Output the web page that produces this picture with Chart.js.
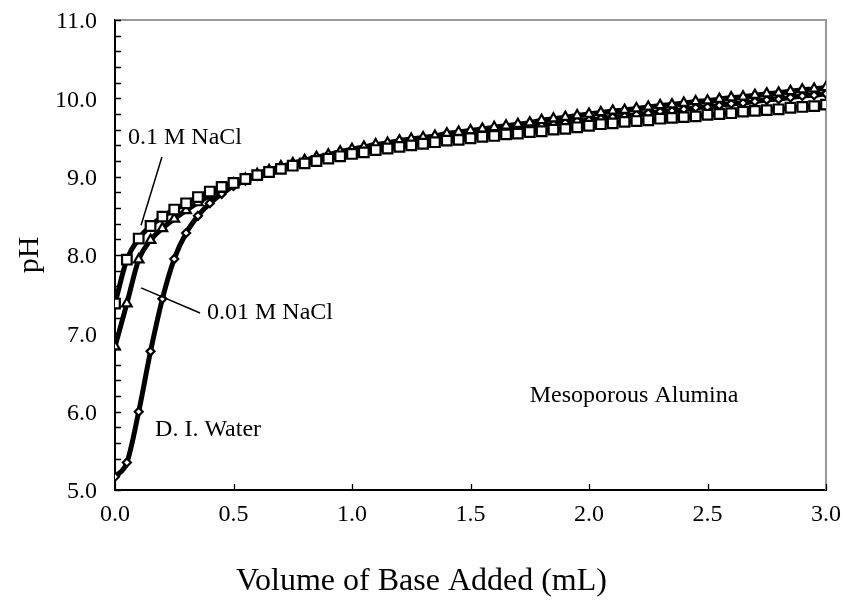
<!DOCTYPE html>
<html>
<head>
<meta charset="utf-8">
<script src="https://cdn.jsdelivr.net/npm/chart.js@4.4.0/dist/chart.umd.min.js"></script>
<style>
	html, body { margin: 0; padding: 0; background: #fff; }
</style>
</head>
<body>
<canvas id="grafica_ph" width="845" height="601"></canvas>
<script>

// volume of base added (mL)
var volumen = [0.00, 0.05, 0.10, 0.15, 0.20, 0.25, 0.30, 0.35, 0.40, 0.45,
	0.50, 0.55, 0.60, 0.65, 0.70, 0.75, 0.80, 0.85, 0.90, 0.95,
	1.00, 1.05, 1.10, 1.15, 1.20, 1.25, 1.30, 1.35, 1.40, 1.45,
	1.50, 1.55, 1.60, 1.65, 1.70, 1.75, 1.80, 1.85, 1.90, 1.95,
	2.00, 2.05, 2.10, 2.15, 2.20, 2.25, 2.30, 2.35, 2.40, 2.45,
	2.50, 2.55, 2.60, 2.65, 2.70, 2.75, 2.80, 2.85, 2.90, 2.95, 3.00];

// pH, 0.1 M NaCl (squares)
var ph_nacl_01 = [7.38, 7.94, 8.21, 8.37, 8.49, 8.58, 8.66, 8.74, 8.81, 8.87,
	8.92, 8.97, 9.02, 9.06, 9.10, 9.14, 9.17, 9.20, 9.23, 9.26,
	9.29, 9.31, 9.34, 9.36, 9.38, 9.40, 9.42, 9.44, 9.46, 9.47,
	9.49, 9.51, 9.52, 9.54, 9.55, 9.57, 9.58, 9.60, 9.61, 9.63,
	9.65, 9.67, 9.68, 9.70, 9.71, 9.72, 9.74, 9.75, 9.76, 9.77,
	9.79, 9.80, 9.81, 9.83, 9.84, 9.85, 9.86, 9.88, 9.89, 9.90, 9.92];

// pH, 0.01 M NaCl (triangles)
var ph_nacl_001 = [6.83, 7.38, 7.94, 8.19, 8.34, 8.46, 8.57, 8.67, 8.76, 8.84,
	8.91, 8.97, 9.03, 9.08, 9.13, 9.17, 9.21, 9.25, 9.28, 9.32,
	9.35, 9.38, 9.41, 9.43, 9.46, 9.48, 9.50, 9.52, 9.55, 9.57,
	9.59, 9.61, 9.63, 9.65, 9.67, 9.69, 9.72, 9.74, 9.76, 9.78,
	9.80, 9.82, 9.84, 9.85, 9.87, 9.89, 9.91, 9.92, 9.94, 9.96,
	9.97, 9.99, 10.01, 10.02, 10.04, 10.06, 10.07, 10.09, 10.11, 10.12, 10.14];

// pH, D. I. water (diamonds)
var ph_agua = [5.17, 5.35, 6.00, 6.77, 7.44, 7.95, 8.28, 8.50, 8.66, 8.78,
	8.88, 8.95, 9.01, 9.06, 9.11, 9.15, 9.19, 9.22, 9.26, 9.29,
	9.32, 9.35, 9.37, 9.40, 9.42, 9.44, 9.46, 9.48, 9.50, 9.52,
	9.54, 9.56, 9.58, 9.60, 9.62, 9.63, 9.65, 9.67, 9.69, 9.71,
	9.72, 9.74, 9.76, 9.77, 9.79, 9.81, 9.83, 9.84, 9.86, 9.88,
	9.89, 9.91, 9.93, 9.94, 9.96, 9.98, 9.99, 10.01, 10.03, 10.04, 10.06];

var etiquetas_x = ['0.0', '0.5', '1.0', '1.5', '2.0', '2.5', '3.0'];
var etiquetas_y = ['5.0', '6.0', '7.0', '8.0', '9.0', '10.0', '11.0'];

var fuente = 'Liberation Serif, Times New Roman, serif';

function puntos(valores)
{
	return volumen.map(function(v, i){ return {x: v, y: valores[i]}; });
}

function serie(nombre, valores, estilo, radio)
{
	return {
		label: nombre,
		data: puntos(valores),
		borderColor: '#000',
		borderWidth: 5,
		backgroundColor: '#fff',
		pointStyle: estilo,
		pointRadius: radio,
		pointBorderWidth: 2.2,
		pointBorderColor: '#000',
		pointBackgroundColor: '#fff',
		cubicInterpolationMode: 'monotone',
		fill: false
	};
}

// text labels and leader lines (in data units)
var notas = [
	{texto: '0.1 M NaCl', x: 0.055, y: 9.50},
	{texto: '0.01 M NaCl', x: 0.388, y: 7.26},
	{texto: 'D. I. Water', x: 0.169, y: 5.77},
	{texto: 'Mesoporous Alumina', x: 1.75, y: 6.20}
];
var guias = [
	[0.198, 9.25, 0.110, 8.38],
	[0.110, 7.58, 0.359, 7.26]
];

var marco = {
	id: 'marco',
	afterLayout: function(chart)
	{
		// centre the bottom title on the whole canvas
		if (chart.titleBlock) {
			chart.titleBlock.left = 0;
			chart.titleBlock.right = chart.width - 2;
		}
	},
	beforeDatasetsDraw: function(chart)
	{
		var ctx = chart.ctx, a = chart.chartArea;
		var sx = chart.scales.x, sy = chart.scales.y;
		ctx.save();
		ctx.strokeStyle = '#9a9a9a';
		ctx.lineWidth = 2;
		ctx.beginPath();
		ctx.moveTo(a.left, a.top);
		ctx.lineTo(a.right, a.top);
		ctx.lineTo(a.right, a.bottom);
		ctx.stroke();

		// inside tick marks
		ctx.strokeStyle = '#000';
		ctx.lineWidth = 1.3;
		ctx.beginPath();
		sy.ticks.forEach(function(t){
			var py = Math.round(sy.getPixelForValue(t.value)) + 0.5;
			ctx.moveTo(a.left, py);
			ctx.lineTo(a.left + 6, py);
		});
		sx.ticks.forEach(function(t){
			var px = Math.round(sx.getPixelForValue(t.value)) + 0.5;
			ctx.moveTo(px, a.bottom);
			ctx.lineTo(px, a.bottom - 6);
		});
		ctx.stroke();
		ctx.restore();
	},
	afterDatasetsDraw: function(chart)
	{
		var ctx = chart.ctx;
		var sx = chart.scales.x, sy = chart.scales.y;
		ctx.save();
		ctx.strokeStyle = '#000';
		ctx.lineWidth = 1.5;
		ctx.beginPath();
		guias.forEach(function(g){
			ctx.moveTo(sx.getPixelForValue(g[0]), sy.getPixelForValue(g[1]));
			ctx.lineTo(sx.getPixelForValue(g[2]), sy.getPixelForValue(g[3]));
		});
		ctx.stroke();
		ctx.fillStyle = '#000';
		ctx.font = '24px ' + fuente;
		ctx.textAlign = 'left';
		ctx.textBaseline = 'middle';
		notas.forEach(function(n){
			ctx.fillText(n.texto, sx.getPixelForValue(n.x), sy.getPixelForValue(n.y));
		});
		ctx.restore();
	}
};

var lienzo = document.getElementById('grafica_ph').getContext('2d');

window.grafica = new Chart(lienzo, {
	type: 'line',
	data: {
		datasets: [
			serie('0.1 M NaCl', ph_nacl_01, 'rect', 6.8),
			serie('0.01 M NaCl', ph_nacl_001, 'triangle', 5.5),
			serie('D. I. Water', ph_agua, 'rectRot', 4)
		]
	},
	plugins: [marco],
	options: {
		responsive: false,
		animation: false,
		layout: {
			padding: {left: 0, right: 19, top: 20, bottom: 0}
		},
		plugins: {
			legend: {display: false},
			tooltip: {enabled: false},
			title: {
				display: true,
				text: 'Volume of Base Added (mL)',
				position: 'bottom',
				color: '#000',
				font: {family: fuente, size: 32, weight: 'normal', lineHeight: 1},
				padding: {top: 0, bottom: 3}
			}
		},
		scales: {
			x: {
				type: 'linear',
				min: 0,
				max: 3,
				grid: {display: true, drawOnChartArea: false, drawTicks: false},
				border: {color: '#000', width: 2},
				ticks: {
					stepSize: 0.5,
					autoSkip: false,
					padding: 10,
					color: '#000',
					font: {family: fuente, size: 24},
					callback: function(v){
						var k = Math.round(v / 0.5);
						return etiquetas_x[k] || '';
					}
				},
				afterFit: function(scale){
					scale.height = 76;
					scale.paddingLeft = 0;
					scale.paddingRight = 0;
				}
			},
			y: {
				min: 5,
				max: 11,
				grid: {display: true, drawOnChartArea: false, drawTicks: false},
				border: {color: '#000', width: 2},
				title: {
					display: true,
					text: 'pH',
					color: '#000',
					font: {family: fuente, size: 30, weight: 'normal', lineHeight: 1.2},
					padding: {top: 12, bottom: 0}
				},
				ticks: {
					stepSize: 0.2,
					autoSkip: false,
					padding: 18,
					labelOffset: 2,
					color: '#000',
					font: {family: fuente, size: 24},
					callback: function(v){
						if (Math.abs(v - Math.round(v)) > 1e-6) return '';
						return etiquetas_y[Math.round(v) - 5] || '';
					}
				},
				afterFit: function(scale){
					scale.width = 115;
					scale.paddingTop = 0;
					scale.paddingBottom = 0;
				}
			}
		}
	}
});

</script>
</body>
</html>
